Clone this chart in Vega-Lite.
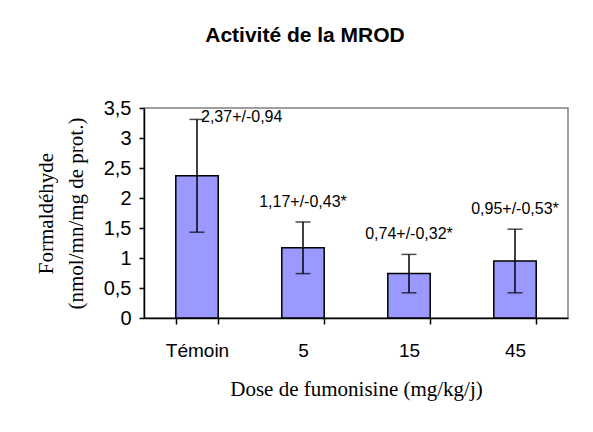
{
  "$schema": "https://vega.github.io/schema/vega-lite/v6.json",
  "autosize": "none",
  "width": 424,
  "height": 210,
  "padding": {"left": 144, "top": 108, "right": 25, "bottom": 114},
  "background": "white",
  "title": {
    "text": "Activité de la MROD",
    "font": "Liberation Sans",
    "fontSize": 21,
    "fontWeight": "bold",
    "color": "black",
    "anchor": "middle",
    "frame": "group",
    "baseline": "alphabetic",
    "offset": 45,
    "dx": -51,
    "dy": 10
  },
  "config": {
    "view": {"stroke": "#808080", "strokeWidth": 1.5},
    "axis": {
      "labelFont": "Liberation Sans",
      "labelFontSize": 19,
      "labelColor": "black",
      "titleFont": "Liberation Serif",
      "titleFontSize": 21,
      "titleFontWeight": "normal",
      "titleColor": "black",
      "domainColor": "black",
      "tickColor": "black",
      "domainWidth": 1.5,
      "tickWidth": 1.5,
      "grid": false
    },
    "axisY": {
      "labelFontSize": 20,
      "tickSize": 5,
      "labelPadding": 8,
      "titlePadding": 17,
      "titleLineHeight": 30
    }
  },
  "data": {
    "values": [
      {"dose": "Témoin", "mean": 2.37, "sd": 0.94, "lo": 1.43, "hi": 3.31, "label": "2,37+/-0,94"},
      {"dose": "5", "mean": 1.17, "sd": 0.43, "lo": 0.74, "hi": 1.6, "label": "1,17+/-0,43*"},
      {"dose": "15", "mean": 0.74, "sd": 0.32, "lo": 0.42, "hi": 1.06, "label": "0,74+/-0,32*"},
      {"dose": "45", "mean": 0.95, "sd": 0.53, "lo": 0.42, "hi": 1.48, "label": "0,95+/-0,53*"}
    ]
  },
  "encoding": {
    "x": {
      "field": "dose",
      "type": "nominal",
      "sort": null,
      "scale": {"paddingInner": 0.6, "paddingOuter": 0.3},
      "axis": {
        "title": "Dose de fumonisine (mg/kg/j)",
        "labelAngle": 0,
        "tickBand": "extent",
        "tickSize": 6,
        "labelPadding": 17,
        "titlePadding": 18
      }
    }
  },
  "layer": [
    {
      "mark": {"type": "bar", "fill": "#9999FF", "stroke": "black", "strokeWidth": 1.5},
      "encoding": {
        "y": {
          "field": "mean",
          "type": "quantitative",
          "scale": {"domain": [0, 3.5], "nice": false},
          "axis": {
            "title": ["Formaldéhyde", "(nmol/mn/mg de prot.)"],
            "values": [0, 0.5, 1, 1.5, 2, 2.5, 3, 3.5],
            "labelExpr": "replace(format(datum.value, '.1~f'), '.', ',')"
          }
        }
      }
    },
    {
      "mark": {"type": "rule", "color": "black", "strokeWidth": 1.5},
      "encoding": {
        "y": {"field": "lo", "type": "quantitative", "axis": {"title": ["Formaldéhyde", "(nmol/mn/mg de prot.)"], "values": [0, 0.5, 1, 1.5, 2, 2.5, 3, 3.5], "labelExpr": "replace(format(datum.value, '.1~f'), '.', ',')"}},
        "y2": {"field": "hi"}
      }
    },
    {
      "mark": {"type": "tick", "color": "black", "thickness": 1.5, "size": 15},
      "encoding": {"y": {"field": "lo", "type": "quantitative", "axis": {"title": ["Formaldéhyde", "(nmol/mn/mg de prot.)"], "values": [0, 0.5, 1, 1.5, 2, 2.5, 3, 3.5], "labelExpr": "replace(format(datum.value, '.1~f'), '.', ',')"}}}
    },
    {
      "mark": {"type": "tick", "color": "black", "thickness": 1.5, "size": 15},
      "encoding": {"y": {"field": "hi", "type": "quantitative", "axis": {"title": ["Formaldéhyde", "(nmol/mn/mg de prot.)"], "values": [0, 0.5, 1, 1.5, 2, 2.5, 3, 3.5], "labelExpr": "replace(format(datum.value, '.1~f'), '.', ',')"}}}
    },
    {
      "transform": [{"filter": "datum.dose !== 'Témoin'"}],
      "mark": {"type": "text", "font": "Liberation Sans", "fontSize": 16, "color": "black", "dy": -20, "baseline": "middle"},
      "encoding": {
        "y": {"field": "hi", "type": "quantitative", "axis": {"title": ["Formaldéhyde", "(nmol/mn/mg de prot.)"], "values": [0, 0.5, 1, 1.5, 2, 2.5, 3, 3.5], "labelExpr": "replace(format(datum.value, '.1~f'), '.', ',')"}},
        "text": {"field": "label"}
      }
    },
    {
      "transform": [{"filter": "datum.dose === 'Témoin'"}],
      "mark": {"type": "text", "font": "Liberation Sans", "fontSize": 16, "color": "black", "dx": 4, "dy": -2, "align": "left", "baseline": "middle"},
      "encoding": {
        "y": {"field": "hi", "type": "quantitative", "axis": {"title": ["Formaldéhyde", "(nmol/mn/mg de prot.)"], "values": [0, 0.5, 1, 1.5, 2, 2.5, 3, 3.5], "labelExpr": "replace(format(datum.value, '.1~f'), '.', ',')"}},
        "text": {"field": "label"}
      }
    }
  ]
}
